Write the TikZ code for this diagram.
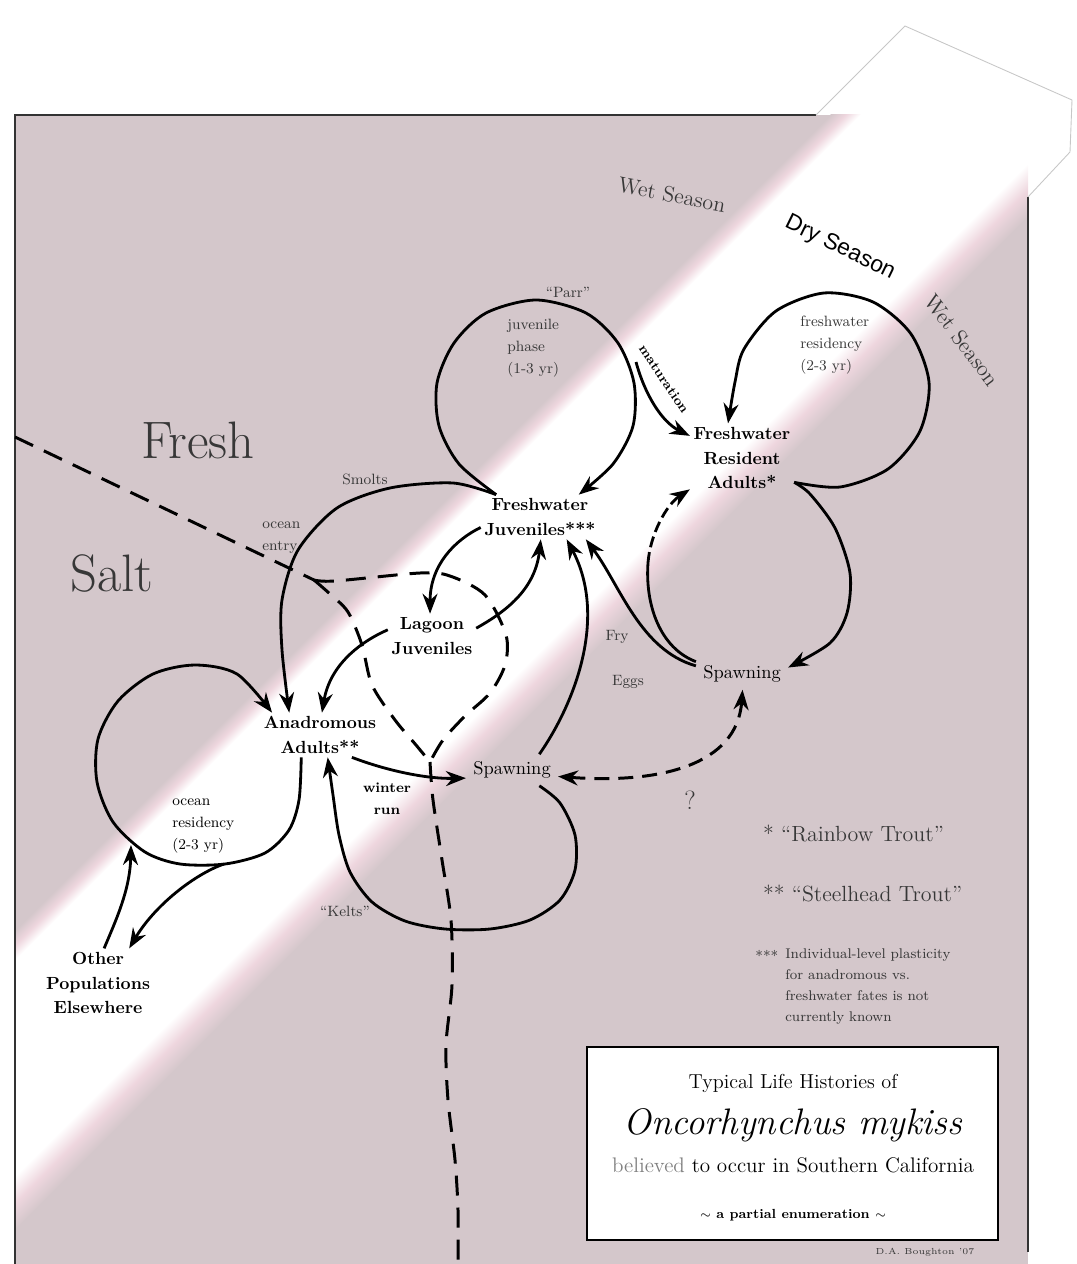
\documentclass[tikz,border=0pt]{standalone}
\usepackage{fontspec}
\setsansfont{Liberation Sans}
\usetikzlibrary{arrows.meta}
\definecolor{panel}{RGB}{212,199,203}
\definecolor{bandpink}{RGB}{238,214,222}
\definecolor{inkgrey}{RGB}{55,55,55}
\pgfdeclareverticalshading{bandfade}{100bp}{color(0bp)=(panel); color(25bp)=(panel); color(29.5bp)=(bandpink); color(34bp)=(white); color(70bp)=(white); color(72.5bp)=(bandpink); color(75bp)=(panel); color(100bp)=(panel)}
\tikzset{
  flow/.style={line width=1.6pt, -{Stealth[length=0.4cm,width=0.3cm]}},
  trail/.style={line width=1.6pt},
  faint/.style={line width=1.6pt, dash pattern=on 0.22cm off 0.1cm, -{Stealth[length=0.4cm,width=0.3cm]}},
  shore/.style={line width=1.7pt, dash pattern=on 0.4cm off 0.24cm},
  twoway/.style={line width=1.7pt, dash pattern=on 0.3cm off 0.18cm, {Stealth[length=0.4cm,width=0.3cm]}-{Stealth[length=0.4cm,width=0.3cm]}},
  stage/.style={font=\fontsize{10}{14}\selectfont\bfseries, align=center, inner sep=2pt},
  spawnsite/.style={font=\fontsize{10.5}{13}\selectfont, inner sep=4pt},
  note/.style={font=\fontsize{8.5}{12.5}\selectfont, text=inkgrey, align=left, inner sep=0pt},
  season/.style={font=\fontsize{12.5}{14}\selectfont, text=inkgrey},
}
\begin{document}
\begin{tikzpicture}[x=0.02cm, y=-0.02cm]
\useasboundingbox (0,0) rectangle (1076,1264);
% background panel and the season band
\fill[panel] (15,115) rectangle (1028,1264);
\begin{scope}
  \clip (15,115) rectangle (1028,1264);
  \begin{scope}[transform canvas={rotate around={45:(547.5,547.5)}}]
    \shade[shading=bandfade] (-560,441.5) rectangle (1660,653.5);
  \end{scope}
\end{scope}
\draw[line width=1pt, black!80] (15,1264) -- (15,115) -- (816,115);
\draw[line width=1pt, black!80] (1028,197) -- (1028,1252);
\draw[line width=0.5pt, black!22] (816,115) -- (905,26) -- (1072,100) -- (1070,152) -- (1028,197);

% Draw nodes
\node[stage] (fj) at (540,517) {Freshwater\\Juveniles***};
\node[stage] (fra) at (742,458) {Freshwater\\Resident\\Adults*};
\node[stage] (lj) at (432,636) {Lagoon\\Juveniles};
\node[stage] (aa) at (320,735) {Anadromous\\Adults**};
\node[stage] (op) at (98,983) {Other\\Populations\\Elsewhere};
\node[spawnsite] (sp) at (512,770) {Spawning};
\node[spawnsite] (spr) at (742,674) {Spawning};

% regions and seasons
\node[font=\fontsize{30}{30}\selectfont, text=inkgrey] (fresh) at (198,440) {Fresh};
\node[font=\fontsize{30}{30}\selectfont, text=inkgrey] (salt) at (112,573) {Salt};
\node[season, rotate=-11] (wetleft) at (672,195) {Wet Season};
\node[font=\sffamily\fontsize{13}{14}\selectfont, rotate=-26] (dry) at (840,248) {Dry Season};
\node[season, rotate=-53] (wetright) at (962,340) {Wet Season};

% small labels
\node[note] (parr) at (568,292) {``Parr''};
\node[note, anchor=west] (juvphase) at (507,348) {juvenile\\phase\\(1-3 yr)};
\node[note, font=\fontsize{7.5}{9}\selectfont\bfseries, text=black, rotate=-56] (mat) at (664,379) {maturation};
\node[note] (smolts) at (365,479) {Smolts};
\node[note, anchor=west] (entry) at (262,538) {ocean\\entry};
\node[note, anchor=west] (fwres) at (800,345) {freshwater\\residency\\(2-3 yr)};
\node[note] (fry) at (617,637) {Fry};
\node[note] (eggs) at (628,682) {Eggs};
\node[note, align=center, font=\fontsize{8}{12.5}\selectfont\bfseries, text=black] (winter) at (387,799) {winter\\run};
\node[note] (kelts) at (345,911) {``Kelts''};
\node[note, anchor=west, text=black] (ocres) at (172,826) {ocean\\residency\\(2-3 yr)};
\node[font=\fontsize{15}{15}\selectfont, text=inkgrey] (query) at (690,800) {?};

% footnotes
\node[anchor=west, font=\fontsize{12.5}{14}\selectfont, text=inkgrey] (rainbow) at (757,833) {* ``Rainbow Trout''};
\node[anchor=west, font=\fontsize{12.5}{14}\selectfont, text=inkgrey] (steelhead) at (757,893) {** ``Steelhead Trout''};
\node[note, anchor=north west] (plastmark) at (755,950) {***};
\node[note, anchor=north west, font=\fontsize{8}{12}\selectfont] (plasticity) at (785,948) {Individual-level plasticity\\for anadromous vs.\\freshwater fates is not\\currently known};

% title box
\draw[line width=1.2pt, fill=white] (587,1047) rectangle (998,1240);
\node (titleA) at (793,1083) {\fontsize{11.5}{13}\selectfont Typical Life Histories of};
\node (titleB) at (793,1125) {\fontsize{21}{24}\selectfont\itshape Oncorhynchus mykiss};
\node (titleC) at (793,1165) {\fontsize{12}{14}\selectfont \textcolor{black!50}{believed} to occur in Southern California};
\node (titleD) at (793,1215) {\fontsize{7.5}{9}\selectfont\bfseries $\sim$ a partial enumeration $\sim$};
\node[text=inkgrey] (credit) at (925,1252) {\fontsize{5}{6}\selectfont D.A. Boughton '07};

% Draw connections
\coordinate (matfork) at (636,362);
\coordinate (resmid) at (648,563);
\coordinate (oceanout) at (224,864);
\coordinate (oceanin) at (131,845);
\draw[flow] plot[smooth] coordinates {(fj.153) (459,464) (439,426) (437,383) (454,343) (486,313) (536,300) (586,313) (618,343) (634,383) (633,426) (613,464) (fj.30)};
\draw[flow] (matfork) .. controls (645,395) and (662,422) .. (fra.157);
\draw[flow] plot[smooth] coordinates {(fj.153) (453,483) (390,488) (337,508) (298,550) (282,600) (282,650) (aa.144)};
\draw[flow] plot[smooth] coordinates {(fra.-25) (840,487) (888,469) (920,431) (929,382) (911,334) (873,302) (824,293) (776,311) (744,349) (735,382) (fra.112)};
\draw[flow] plot[smooth] coordinates {(fra.-25) (810,494) (835,528) (850,573) (847,613) (830,643) (spr.8)};
\draw[trail] (spr.165) .. controls (660,648) and (645,605) .. (resmid);
\draw[faint] (resmid) .. controls (650,535) and (666,505) .. (fra.211);
\draw[flow] (spr.170) .. controls (640,650) and (620,585) .. (fj.-26);
\draw[flow] (sp.30) .. controls (577,700) and (607,615) .. (fj.-40);
\draw[flow] (lj.10) .. controls (505,612) and (535,590) .. (fj.-88);
\draw[flow] (fj.190) .. controls (455,540) and (430,565) .. (lj.95);
\draw[flow] (lj.172) .. controls (360,642) and (330,665) .. (aa.85);
\draw[flow] (aa.-35) .. controls (385,770) and (425,779) .. (sp.190);
\draw[flow] plot[smooth] coordinates {(sp.-30) (560,803) (575,835) (575,870) (560,900) (530,920) (490,929) (445,929) (405,921) (372,902) (350,872) (339,835) (333,795) (aa.-71)};
\draw[flow] plot[smooth] coordinates {(aa.-130) (299,800) (289,830) (265,853) (225,864) (180,864) (145,852) (113,822) (97,782) (98,739) (118,701) (153,674) (195,665) (237,674) (aa.155)};
\draw[flow] (oceanout) .. controls (195,874) and (155,905) .. (op.48);
\draw[flow] (op.80) .. controls (116,920) and (130,890) .. (oceanin);
\draw[twoway] (sp.-8) .. controls (660,784) and (737,765) .. (spr.-88);

% shoreline and creek
\coordinate (shoreW) at (15,437);
\coordinate (shoreJ) at (314,580);
\coordinate (mouth) at (430,762);
\coordinate (creekS) at (458,1264);
\draw[shore] (shoreW) -- (shoreJ);
\draw[shore] plot[smooth] coordinates {(shoreJ) (335,581) (420,573) (450,576) (485,595) (506,635) (505,665) (490,693) (465,716) (443,740) (mouth)};
\draw[shore] plot[smooth] coordinates {(shoreJ) (330,594) (348,612) (362,645) (372,685) (395,720) (416,745) (mouth)};
\draw[shore] plot[smooth] coordinates {(mouth) (433,800) (442,860) (451,920) (452,985) (446,1045) (448,1100) (455,1160) (458,1210) (creekS)};
\end{tikzpicture}
\end{document}
